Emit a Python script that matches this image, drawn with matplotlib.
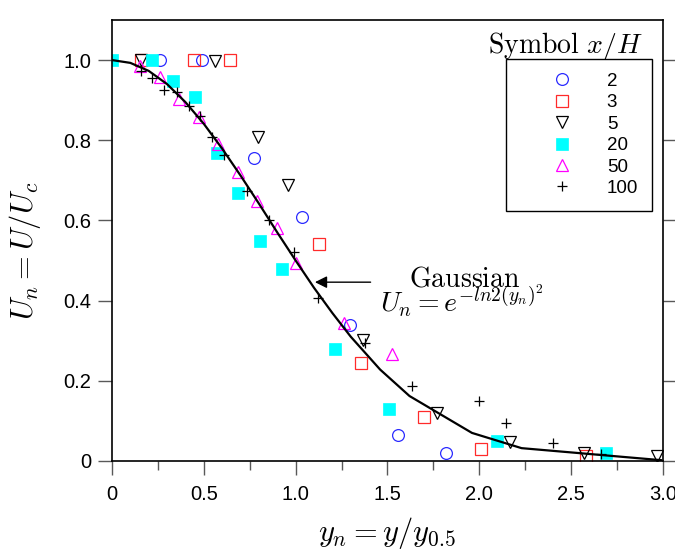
import numpy as np
import matplotlib
matplotlib.use("Agg")
import matplotlib.pyplot as plt

plt.rcParams['font.family'] = ['Liberation Sans', 'DejaVu Sans']
plt.rcParams['mathtext.fontset'] = 'cm'

# --- data (y_n, U_n) ---
x_2 = [0.26, 0.49, 0.775, 1.036, 1.296, 1.555, 1.817]
u_2 = [1.0, 1.0, 0.755, 0.608, 0.339, 0.064, 0.019]

x_3 = [0.16, 0.445, 0.642, 1.127, 1.356, 1.699, 2.009, 2.58]
u_3 = [1.0, 1.0, 1.0, 0.54, 0.245, 0.11, 0.03, 0.013]

x_5 = [0.16, 0.561, 0.797, 0.96, 1.368, 1.768, 2.167, 2.57, 2.969]
u_5 = [1.0, 0.998, 0.807, 0.688, 0.302, 0.119, 0.048, 0.021, 0.013]

x_20 = [0.0, 0.216, 0.334, 0.452, 0.573, 0.688, 0.806, 0.924, 1.214, 1.51, 2.098, 2.69]
u_20 = [1.0, 1.0, 0.948, 0.909, 0.769, 0.669, 0.549, 0.479, 0.279, 0.13, 0.05, 0.02]

x_50 = [0.152, 0.261, 0.363, 0.472, 0.575, 0.684, 0.788, 0.897, 1.0, 1.265, 1.527]
u_50 = [0.985, 0.958, 0.902, 0.857, 0.79, 0.722, 0.649, 0.58, 0.493, 0.343, 0.267]

x_100 = [0.16, 0.22, 0.283, 0.352, 0.418, 0.479, 0.543, 0.61, 0.733, 0.857,
         0.993, 1.12, 1.377, 1.632, 1.996, 2.145, 2.4, 2.662]
u_100 = [0.972, 0.955, 0.926, 0.92, 0.886, 0.86, 0.809, 0.763, 0.674, 0.602,
         0.522, 0.406, 0.295, 0.187, 0.15, 0.094, 0.046, 0.017]

# Gaussian reference curve, vertices as drawn
x_gauss = [0, 0.1, 0.2, 0.3, 0.4, 0.5, 0.6, 0.7, 0.8, 0.9, 1.0, 1.1, 1.2, 1.3,
           1.46, 1.62, 1.96, 2.23, 2.99]
u_gauss = [1.0, 0.993, 0.973, 0.94, 0.895, 0.841, 0.779, 0.712, 0.642, 0.570,
           0.5, 0.432, 0.369, 0.310, 0.228, 0.162, 0.070, 0.032, 0.002]

series_labels = ['2', '3', '5', '20', '50', '100']

fig = plt.figure(figsize=(6.75, 5.52), dpi=100)
ax = fig.add_axes([0.1659, 0.1649, 0.8163, 0.7989])

ax.plot(x_gauss, u_gauss, color='black', linewidth=1.6, zorder=3)

ms = 8
ax.plot(x_2, u_2, 'o', ms=8.5, mfc='none', mec='#2a2aff', mew=0.9, label=series_labels[0])
ax.plot(x_3, u_3, 's', ms=ms, mfc='none', mec='#ff2a2a', mew=0.9, label=series_labels[1])
ax.plot(x_5, u_5, 'v', ms=ms, mfc='none', mec='black', mew=0.9, label=series_labels[2])
ax.plot(x_20, u_20, 's', ms=ms, mfc='#00ffff', mec='#00ffff', mew=0.5, label=series_labels[3])
ax.plot(x_50, u_50, '^', ms=ms, mfc='none', mec='#ff00ff', mew=0.9, label=series_labels[4])
ax.plot(x_100, u_100, '+', ms=7.5, color='black', mew=0.9, label=series_labels[5])

ax.set_xlim(0, 3.0)
ax.set_ylim(0, 1.1)
ax.set_xticks([0, 0.5, 1.0, 1.5, 2.0, 2.5, 3.0])
ax.set_xticklabels(['0', '0.5', '1.0', '1.5', '2.0', '2.5', '3.0'])
ax.set_xticks(np.arange(0.25, 3.0, 0.5), minor=True)
ax.set_yticks([0, 0.2, 0.4, 0.6, 0.8, 1.0])
ax.set_yticklabels(['0', '0.2', '0.4', '0.6', '0.8', '1.0'])

ax.tick_params(which='major', direction='out', length=10, width=1.0, color='0.35',
               labelsize=14.5, pad=5, right=True)
ax.tick_params(which='minor', direction='out', length=6.5, width=1.0, color='0.35')
ax.tick_params(axis='x', pad=7)
for sp in ax.spines.values():
    sp.set_linewidth(1.2)

ax.set_xlabel(r'$y_n = y/y_{0.5}$', fontsize=22)
ax.xaxis.set_label_coords(0.498, -0.122)
ax.set_ylabel(r'$U_n = U/U_c$', fontsize=22)
ax.yaxis.set_label_coords(-0.125, 0.476)

# annotation
ax.annotate('', xy=(1.105, 0.446), xytext=(1.408, 0.446),
            arrowprops=dict(arrowstyle='-|>', color='black', lw=1.0,
                            mutation_scale=18, shrinkA=0, shrinkB=0))
ax.text(1.922, 0.434, r'$\mathrm{Gaussian}$', fontsize=20, ha='center', va='baseline')
ax.text(1.459, 0.372, r'$U_n = e^{-ln2(y_n)^2}$', fontsize=20, ha='left', va='baseline')

leg = ax.legend(loc='upper right', bbox_to_anchor=(0.980, 0.912), borderaxespad=0,
                fontsize=13.5, frameon=True, fancybox=False, edgecolor='black',
                handlelength=4.45, handletextpad=0.16, borderpad=0.74,
                labelspacing=0.23, numpoints=1)
leg.get_frame().set_linewidth(1.0)
leg.get_frame().set_alpha(None)
ax.text(0.822, 0.925, r'$\mathrm{Symbol}\ x/H$', transform=ax.transAxes,
        fontsize=20, ha='center', va='baseline')

fig.savefig('out.png', dpi=100)
